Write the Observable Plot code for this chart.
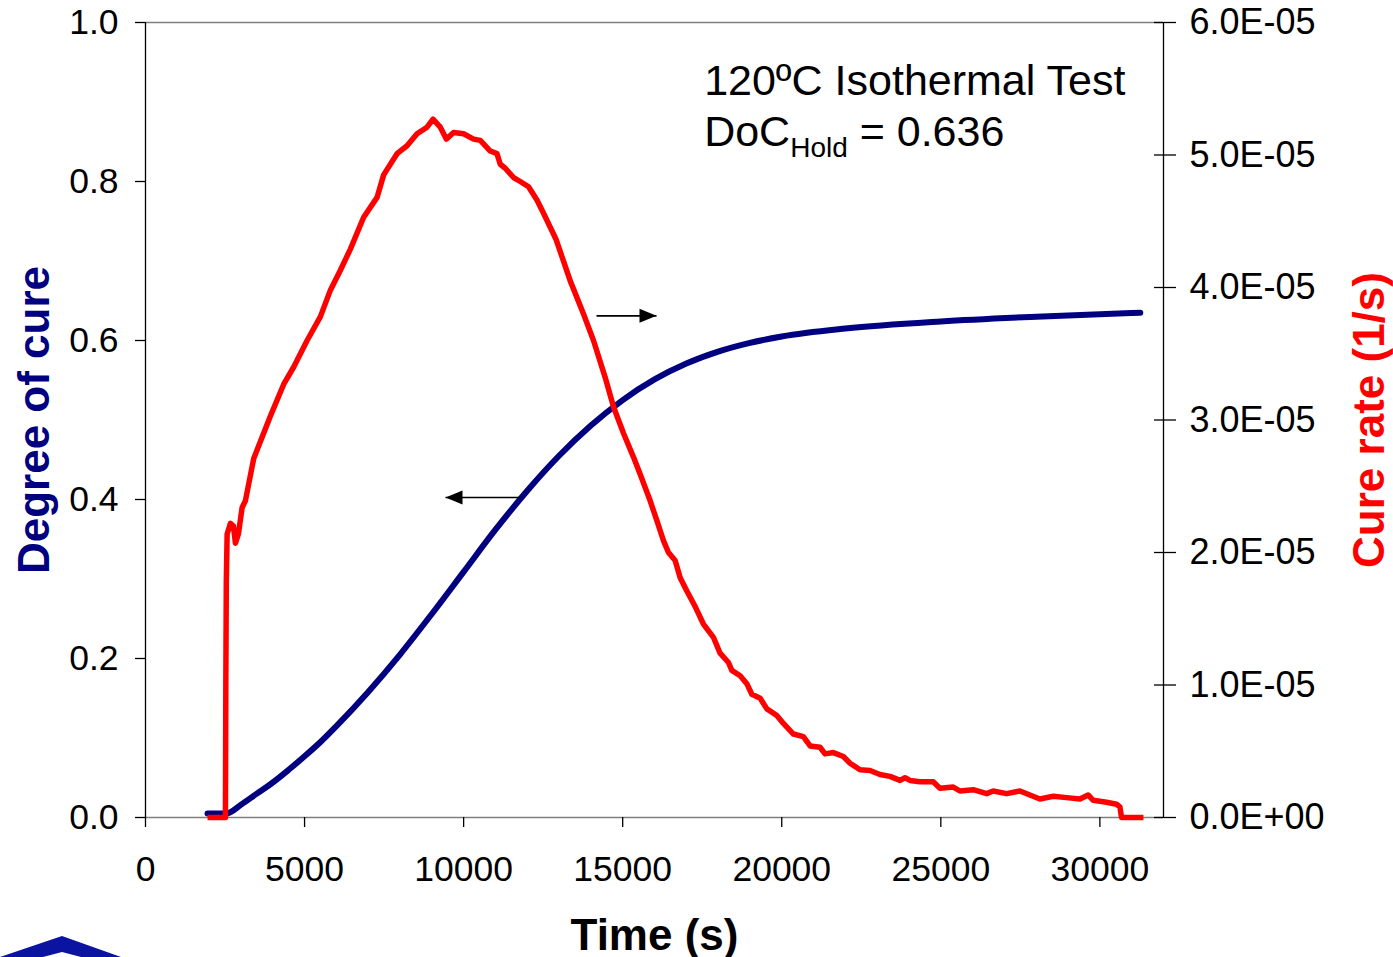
<!DOCTYPE html>
<html>
<head>
<meta charset="utf-8">
<script src="https://cdn.jsdelivr.net/npm/d3@7"></script>
<script src="https://cdn.jsdelivr.net/npm/@observablehq/plot@0.6"></script>
<style>
  body { margin: 0; background: #fff; }
  #chart { width: 1393px; height: 957px; }
</style>
</head>
<body>
<div id="chart"></div>
<script>
// ---------------- data ----------------
// Degree of cure (left axis) vs time (s)
const docTime   = [1950, 2540, 3000, 3500, 4000, 4500, 5000, 5500, 6000, 7000, 8000, 9000, 10000, 11000, 12000, 13000, 14000, 15000, 16000, 17000, 18000, 19000, 20000, 22000, 25000, 28000, 31270];
const docValues = [0.005, 0.005, 0.016, 0.030, 0.044, 0.060, 0.077, 0.095, 0.115, 0.158, 0.205, 0.256, 0.309, 0.362, 0.411, 0.455, 0.493, 0.525, 0.551, 0.571, 0.586, 0.597, 0.605, 0.615, 0.624, 0.630, 0.635];

// Cure rate (right axis) vs time (s); values in units of 1E-05 1/s
const rateTime = [1950, 2513, 2525, 2540, 2566, 2670, 2764, 2827, 2921, 3038, 3141, 3402, 3927, 4345, 4659, 5080, 5498, 5812, 6126, 6440, 6858, 7279, 7486, 7907, 8221, 8535, 8849, 9038, 9267, 9456, 9685, 9999, 10313, 10524, 10838, 11048, 11152, 11309, 11570, 11780, 12041, 12305, 12512, 12911, 13351, 13769, 14083, 14451, 14711, 15025, 15339, 15550, 15864, 16075, 16282, 16439, 16650, 16807, 17017, 17282, 17538, 17852, 18062, 18324, 18431, 18692, 18902, 19059, 19322, 19532, 19845, 20052, 20366, 20680, 20890, 21204, 21361, 21623, 21937, 22147, 22461, 22775, 23089, 23403, 23717, 23875, 24032, 24346, 24763, 24974, 25392, 25602, 26020, 26441, 26648, 27069, 27487, 27801, 28115, 28533, 28954, 29372, 29632, 29790, 30211, 30525, 30629, 30682, 31370];
const rateValues = [0, 0, 1.0, 1.78, 2.14, 2.22, 2.20, 2.07, 2.14, 2.34, 2.39, 2.71, 3.03, 3.27, 3.40, 3.60, 3.78, 3.98, 4.13, 4.29, 4.53, 4.68, 4.85, 5.01, 5.07, 5.16, 5.21, 5.27, 5.21, 5.12, 5.17, 5.16, 5.12, 5.11, 5.03, 5.01, 4.93, 4.90, 4.83, 4.80, 4.76, 4.66, 4.56, 4.36, 4.05, 3.80, 3.60, 3.32, 3.10, 2.90, 2.72, 2.59, 2.39, 2.24, 2.09, 2.00, 1.94, 1.81, 1.71, 1.59, 1.46, 1.36, 1.24, 1.17, 1.11, 1.07, 1.01, 0.93, 0.90, 0.82, 0.77, 0.71, 0.63, 0.61, 0.54, 0.53, 0.48, 0.49, 0.46, 0.41, 0.36, 0.355, 0.325, 0.31, 0.28, 0.30, 0.28, 0.27, 0.27, 0.22, 0.23, 0.20, 0.21, 0.18, 0.20, 0.18, 0.20, 0.17, 0.14, 0.16, 0.15, 0.14, 0.17, 0.13, 0.115, 0.10, 0.08, 0, 0];
const rateUnit = 1e-5;

// axes
const xDomain    = [0, 32000];
const xTicks     = [0, 5000, 10000, 15000, 20000, 25000, 30000];
const leftTicks  = [0, 0.2, 0.4, 0.6, 0.8, 1.0];
const rightTicks = [0, 1e-5, 2e-5, 3e-5, 4e-5, 5e-5, 6e-5];
const rateMax    = 6e-5;

// texts
const xTitle = "Time (s)";
const leftTitle = "Degree of cure";
const rightTitle = "Cure rate (1/s)";
const note1 = "120ºC Isothermal Test";
const note2Parts = ["DoC", "Hold", " = 0.636"];
const noteX = 17560, note1Y = 0.909, note2Y = 0.845;

// indicator arrows: [x from, x tip, y (left-axis units)]
const arrowRight = {x1: 14177, x2: 16063, y: 0.631};
const arrowLeft  = {x1: 11788, x2: 9430,  y: 0.4025};

// ---------------- build ----------------
const blue = docTime.map((t, i) => ({t, v: docValues[i]}));
const red  = rateTime.map((t, i) => ({t, v: rateValues[i] * rateUnit / rateMax}));

function sciFmt(v) {
  if (v === 0) return "0.0E+00";
  const [m, e] = v.toExponential(1).split("e");
  const n = +e;
  return m + "E" + (n < 0 ? "-" : "+") + String(Math.abs(n)).padStart(2, "0");
}

const triRight = {draw(ctx) { ctx.moveTo(0, 0); ctx.lineTo(-17, -7); ctx.lineTo(-17, 7); ctx.closePath(); }};
const triLeft  = {draw(ctx) { ctx.moveTo(0, 0); ctx.lineTo(17, -7); ctx.lineTo(17, 7); ctx.closePath(); }};

const font = "'Liberation Sans', Arial, Helvetica, sans-serif";

const svg = Plot.plot({
  width: 1393,
  height: 957,
  marginLeft: 145,
  marginRight: 230,
  marginTop: 22,
  marginBottom: 140,
  style: {fontFamily: font, background: "#fff", overflow: "visible", color: "#000"},
  x: {domain: xDomain},
  y: {domain: [0, 1]},
  marks: [
    Plot.ruleY([1], {stroke: "#808080", strokeWidth: 1.6}),
    Plot.ruleY([0], {stroke: "#808080", strokeWidth: 1.6}),
    Plot.ruleX([xDomain[0]], {stroke: "#000", strokeWidth: 1.3}),
    Plot.ruleX([xDomain[1]], {stroke: "#000", strokeWidth: 1.3}),
    Plot.axisX({ticks: xTicks, tickFormat: d => String(d), tickSize: 10, tickPadding: 28, fontSize: 35.5, label: null, strokeWidth: 1.3}),
    Plot.axisY({anchor: "left", ticks: leftTicks, tickFormat: d => d.toFixed(1), tickSize: 10, tickPadding: 17, fontSize: 35.5, label: null, strokeWidth: 1.3}),
    Plot.axisY({anchor: "right", ticks: rightTicks.map(v => v / rateMax), tickFormat: (d, i) => sciFmt(rightTicks[i]), tickSize: 12, tickPadding: 14, fontSize: 36, label: null, strokeWidth: 1.3}),
    Plot.axisY({anchor: "right", ticks: rightTicks.map(v => v / rateMax), tickFormat: () => "", tickSize: 10, dx: -10, label: null, strokeWidth: 1.3}),
    Plot.line(blue, {x: "t", y: "v", stroke: "#000080", strokeWidth: 6, curve: "monotone-x"}),
    Plot.line(red, {x: "t", y: "v", stroke: "#ff0000", strokeWidth: 5.5, strokeLinejoin: "round", strokeLinecap: "butt"}),
    Plot.link([arrowRight, arrowLeft], {x1: "x1", x2: "x2", y1: "y", y2: "y", stroke: "#000", strokeWidth: 1.6}),
    Plot.dot([arrowRight], {x: "x2", y: "y", symbol: triRight, fill: "#000", stroke: null, r: 8}),
    Plot.dot([arrowLeft], {x: "x2", y: "y", symbol: triLeft, fill: "#000", stroke: null, r: 8}),
    Plot.text([note1], {x: noteX, y: note1Y, textAnchor: "start", lineAnchor: "bottom", fontSize: 43, fill: "#000"}),
    Plot.text([note2Parts.join("")], {x: noteX, y: note2Y, textAnchor: "start", lineAnchor: "bottom", fontSize: 43, fill: "#000"}),
    Plot.text([leftTitle], {frameAnchor: "left", dx: -111, rotate: -90, textAnchor: "middle", lineAnchor: "middle", fontSize: 44, fontWeight: "bold", fill: "#000080"}),
    Plot.text([rightTitle], {frameAnchor: "right", dx: 206, rotate: -90, textAnchor: "middle", lineAnchor: "middle", fontSize: 44, fontWeight: "bold", fill: "#ff0000"}),
    Plot.text([xTitle], {frameAnchor: "bottom", dy: 118, textAnchor: "middle", lineAnchor: "middle", fontSize: 44, fontWeight: "bold", fill: "#000"})
  ]
});

// subscript in the annotation
d3.select(svg).selectAll("text").filter(function () { return this.textContent === note2Parts.join(""); }).each(function () {
  const t = d3.select(this);
  t.text(null);
  t.append("tspan").text(note2Parts[0]);
  t.append("tspan").attr("font-size", 28).attr("dy", 11).text(note2Parts[1]);
  t.append("tspan").attr("dy", -11).text(note2Parts[2]);
});

// partial logo at bottom-left corner (decoration)
d3.select(svg).append("polygon")
  .attr("points", "0,957 62,936 121,957 81,957 62,952 43,957")
  .attr("fill", "#0a14a0");

document.getElementById("chart").appendChild(svg);
</script>
</body>
</html>
